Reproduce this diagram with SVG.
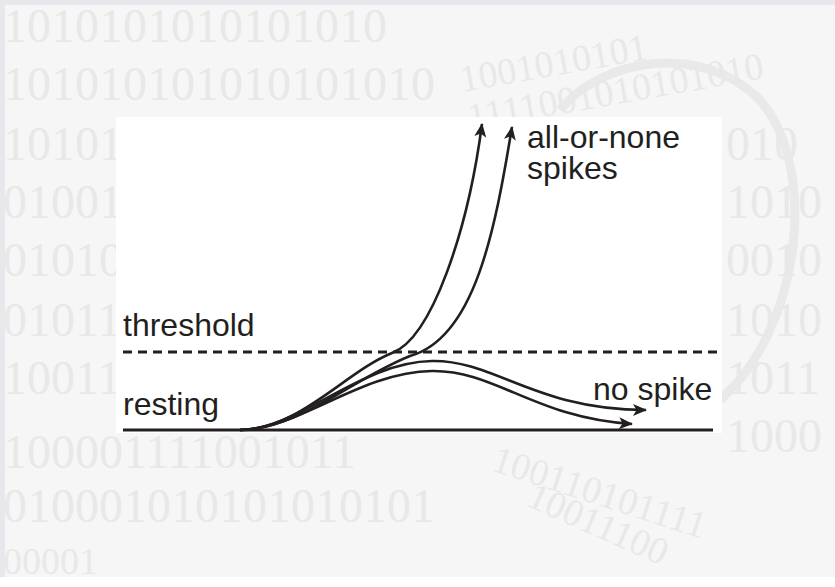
<svg xmlns="http://www.w3.org/2000/svg" width="835" height="587" viewBox="0 0 835 587">
  <style>
    .wm { font-family: "Liberation Serif", serif; font-size: 48px; fill: #e8e8e8; }
    .wm2 { font-family: "Liberation Serif", serif; font-size: 38px; fill: #e8e8e8; }
    .lbl { font-family: "Liberation Sans", Arial, sans-serif; font-size: 32px; fill: #231f20; }
    .curve { fill: none; stroke: #231f20; stroke-width: 2.6; marker-end: url(#ah); }
    .axis { fill: none; stroke: #231f20; stroke-width: 2.8; }
  </style>
  <defs>
    <marker id="ah" markerUnits="userSpaceOnUse" markerWidth="30" markerHeight="30" refX="0" refY="0" viewBox="-15 -15 30 30" orient="auto" overflow="visible">
      <path d="M1,0 L-13,-6 L-9.5,0 L-13,6 Z" fill="#231f20"/>
    </marker>
  </defs>

  <g id="background">
    <rect x="0" y="0" width="835" height="587" fill="#e9e7eb"/>
    <rect x="5" y="5" width="830" height="572" fill="#f6f6f6"/>
    <rect x="0" y="577" width="835" height="10" fill="#ffffff"/>
    <path d="M560,110 C600,60 700,40 760,100 C820,170 800,330 720,400" fill="none" stroke="#e9e9e9" stroke-width="9"/>
    <g id="watermark">
      <text class="wm" x="3" y="42">1010101010101010</text>
      <text class="wm" x="3" y="100">101010101010101010</text>
      <text class="wm" x="3" y="160">10101</text>
      <text class="wm" x="3" y="218">01001</text>
      <text class="wm" x="3" y="276">01010</text>
      <text class="wm" x="3" y="336">01011</text>
      <text class="wm" x="3" y="394">10011</text>
      <text class="wm" x="3" y="468">100001111001011</text>
      <text class="wm" x="3" y="522">010001010101010101</text>
      <text class="wm2" x="3" y="574">00001</text>
      <text class="wm2" x="462" y="92" transform="rotate(-10 462 92)">1001010101</text>
      <text class="wm2" x="470" y="130" transform="rotate(-10 470 130)">1111001010101010</text>
      <text class="wm" x="726" y="160">010</text>
      <text class="wm" x="726" y="218">1010</text>
      <text class="wm" x="726" y="276">0010</text>
      <text class="wm" x="726" y="336">1010</text>
      <text class="wm" x="726" y="394">1011</text>
      <text class="wm" x="726" y="452">1000</text>
      <text class="wm2" x="490" y="470" transform="rotate(18 490 470)">100110101111</text>
      <text class="wm2" x="525" y="505" transform="rotate(24 525 505)">10011100</text>
    </g>
    <rect x="116" y="117" width="606" height="316" fill="#ffffff"/>
  </g>

  <g id="axes">
    <line id="resting-line" class="axis" x1="123" y1="430" x2="713" y2="430"/>
    <line id="threshold-line" class="axis" x1="123" y1="352" x2="718" y2="352" stroke-dasharray="9 6"/>
  </g>

  <g id="connectors">
    <path id="spike1" class="curve" d="M240,430 C300,429 345,372 392,353 C432,338 468,230 482,124"/>
    <path id="spike2" class="curve" d="M240,430 C300,429 350,380 410,356 C475,338 495,230 512,127"/>
    <path id="nospike1" class="curve" d="M240,430 C300,429 360,362 432,361 C495,360 535,410 646,410"/>
    <path id="nospike2" class="curve" d="M240,430 C300,429 360,372 432,371 C495,370 535,418 632,424"/>
  </g>

  <g id="label-threshold"><text class="lbl" x="123" y="336">threshold</text></g>
  <g id="label-resting"><text class="lbl" x="123" y="415">resting</text></g>
  <g id="label-spikes"><text class="lbl" x="527" y="148">all-or-none</text><text class="lbl" x="527" y="179">spikes</text></g>
  <g id="label-nospike"><text class="lbl" x="593" y="400">no spike</text></g>
</svg>
